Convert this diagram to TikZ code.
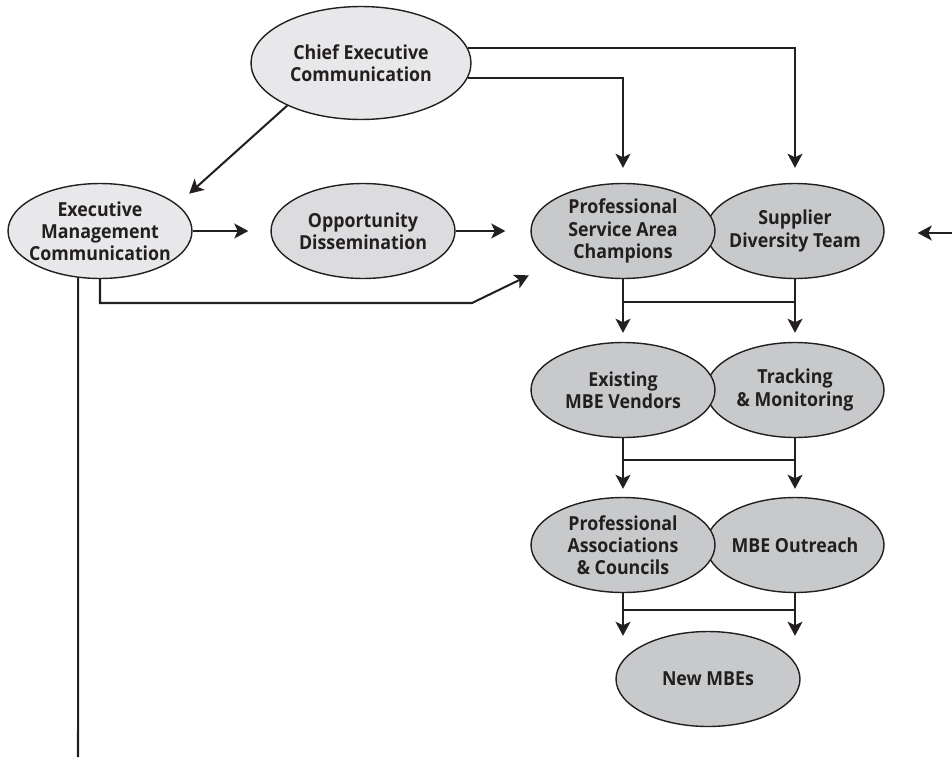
\documentclass[tikz,border=0pt]{standalone}
\usepackage{fontspec}
\setmainfont{Open Sans}[FakeStretch=0.92]
\usepackage{xcolor}
\usepackage{tikz}
\usetikzlibrary{shapes.geometric, positioning, arrows.meta}

\definecolor{ink}{HTML}{231F20}
\definecolor{paleFill}{HTML}{E8E8EA}
\definecolor{midFill}{HTML}{DCDCDE}
\definecolor{unitFill}{HTML}{C8C9CB}

\begin{document}
\begin{tikzpicture}[
    x=0.02cm, y=-0.02cm,
    every node/.style={font=\fontsize{11}{12.6}\selectfont\bfseries, align=center, text=ink},
    blob/.style={ellipse, draw=ink, line width=0.8pt, inner sep=0pt,
      minimum width=3.68cm, minimum height=1.9cm},
    exec/.style={blob, fill=paleFill},
    opp/.style={blob, fill=midFill},
    unit/.style={blob, fill=unitFill},
    link/.style={draw=ink, line width=1.15pt},
    flow/.style={link, -{Stealth[length=8pt, width=8.5pt, inset=2pt]}},
  ]
  \useasboundingbox (0,0) rectangle (952,757);

  % top level
  \node[exec, minimum width=4.4cm, minimum height=2.26cm,
    label={center:Chief Executive\\Communication}] (ceo) at (361,63) {};
  \node[exec, label={center:Executive\\Management\\Communication}] (emc) at (100,231) {};
  \node[opp, label={center:Opportunity\\Dissemination}] (dis) at (363,231) {};

  % right hand column, right ellipses first so the left ones sit on top
  \node[unit, minimum width=3.56cm, label={center:Supplier\\Diversity Team}] (sdt) at (795,231) {};
  \node[unit, label={center:Professional\\Service Area\\Champions}] (psac) at (623,231) {};
  \node[unit, minimum width=3.56cm, label={center:Tracking\\\& Monitoring}] (trk) at (795,390) {};
  \node[unit, label={center:Existing\\MBE Vendors}] (mbev) at (623,390) {};
  \node[unit, minimum width=3.56cm, label={center:MBE Outreach}] (outr) at (795,545) {};
  \node[unit, label={center:Professional\\Associations\\\& Councils}] (pac) at (623,545) {};
  \node[unit, label={center:New MBEs}] (new) at (708,679) {};

  % junction rows and loose ends
  \coordinate (row1) at (0,302);
  \coordinate (row2) at (0,460);
  \coordinate (row3) at (0,610);
  \coordinate (bend) at (472,303);
  \coordinate (tail) at (78,757);
  \coordinate (feed) at (952,233);

  % from the chief executive
  \draw[flow, shorten >=0.3cm] (ceo.8) -| (sdt.north);
  \draw[flow, shorten >=0.3cm] (ceo.-8) -| (psac.north);
  \draw[flow, shorten >=0.32cm] (ceo.210) -- (emc.19);

  % executive management
  \draw[flow, shorten >=0.44cm] (emc.east) -- (dis.west);
  \draw[flow, shorten >=0.5cm] (dis.east) -- (psac.west);
  \draw[flow, shorten >=0.56cm] (emc.south) |- (bend) -- (psac.205);
  \draw[link] (emc.245) -- (tail);
  \draw[flow, shorten >=0.66cm] (feed) -- (sdt.east |- feed);

  % cascade down the column
  \draw[link] (psac.south |- row1) -- (sdt.south |- row1);
  \draw[flow, shorten >=0.18cm] (psac.south) -- (mbev.north);
  \draw[flow, shorten >=0.18cm] (sdt.south) -- (trk.north);

  \draw[link] (mbev.south |- row2) -- (trk.south |- row2);
  \draw[flow, shorten >=0.16cm] (mbev.south) -- (pac.north);
  \draw[flow, shorten >=0.16cm] (trk.south) -- (outr.north);

  \draw[link] (pac.south |- row3) -- (outr.south |- row3);
  \draw[flow, shorten >=-0.1cm] (pac.south) -- (pac.south |- new.north);
  \draw[flow, shorten >=-0.1cm] (outr.south) -- (outr.south |- new.north);
\end{tikzpicture}
\end{document}
